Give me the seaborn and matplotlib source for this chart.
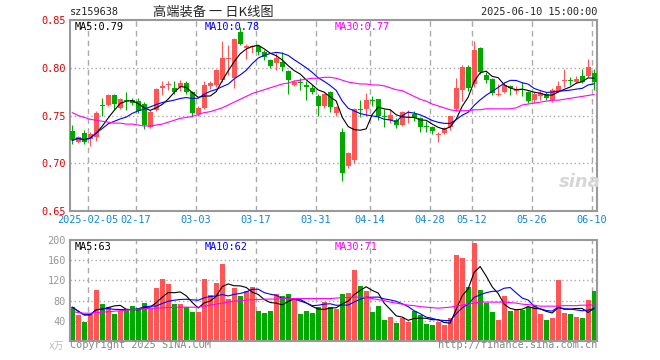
import numpy as np
import pandas as pd
import matplotlib
matplotlib.use("Agg")
import matplotlib.pyplot as plt
import seaborn as sns

# ---- data (one entry per trading day) ----
opens = [0.734, 0.722, 0.732, 0.725, 0.727, 0.761, 0.761, 0.771, 0.758, 0.766,
         0.766, 0.765, 0.762, 0.738, 0.756, 0.779, 0.782, 0.779, 0.780, 0.784,
         0.775, 0.752, 0.758, 0.781, 0.782, 0.787, 0.809, 0.789, 0.837, 0.821,
         0.822, 0.823, 0.817, 0.808, 0.805, 0.806, 0.797, 0.782, 0.785, 0.782,
         0.779, 0.770, 0.760, 0.775, 0.753, 0.733, 0.697, 0.703, 0.757, 0.757,
         0.766, 0.767, 0.749, 0.745, 0.745, 0.740, 0.747, 0.752, 0.747, 0.739,
         0.738, 0.730, 0.732, 0.738, 0.757, 0.777, 0.801, 0.783, 0.821, 0.792,
         0.788, 0.771, 0.775, 0.781, 0.776, 0.7775, 0.775, 0.766, 0.770, 0.772,
         0.766, 0.776, 0.786, 0.787, 0.785, 0.791, 0.791, 0.795]
highs = [0.740, 0.729, 0.735, 0.733, 0.755, 0.768, 0.772, 0.773, 0.768, 0.775,
         0.768, 0.768, 0.764, 0.756, 0.779, 0.786, 0.786, 0.786, 0.787, 0.786,
         0.776, 0.760, 0.786, 0.786, 0.799, 0.828, 0.824, 0.831, 0.843, 0.825,
         0.824, 0.824, 0.819, 0.809, 0.815, 0.817, 0.798, 0.787, 0.789, 0.786,
         0.782, 0.772, 0.774, 0.776, 0.760, 0.737, 0.712, 0.758, 0.766, 0.774,
         0.770, 0.767, 0.757, 0.757, 0.747, 0.755, 0.756, 0.755, 0.748, 0.744,
         0.739, 0.733, 0.738, 0.750, 0.789, 0.803, 0.803, 0.828, 0.822, 0.796,
         0.789, 0.783, 0.785, 0.782, 0.781, 0.785, 0.776, 0.775, 0.777, 0.775,
         0.779, 0.786, 0.799, 0.790, 0.791, 0.799, 0.809, 0.799]
lows = [0.720, 0.721, 0.720, 0.718, 0.723, 0.749, 0.760, 0.757, 0.757, 0.756,
        0.761, 0.753, 0.736, 0.737, 0.755, 0.771, 0.777, 0.773, 0.776, 0.772,
        0.749, 0.750, 0.757, 0.778, 0.780, 0.785, 0.792, 0.779, 0.824, 0.809,
        0.815, 0.813, 0.808, 0.800, 0.798, 0.797, 0.773, 0.781, 0.777, 0.766,
        0.773, 0.749, 0.758, 0.754, 0.749, 0.681, 0.695, 0.700, 0.748, 0.750,
        0.760, 0.745, 0.738, 0.742, 0.737, 0.739, 0.742, 0.744, 0.733, 0.733,
        0.731, 0.722, 0.731, 0.735, 0.755, 0.765, 0.776, 0.780, 0.793, 0.784,
        0.771, 0.770, 0.774, 0.771, 0.772, 0.770, 0.763, 0.763, 0.766, 0.766,
        0.764, 0.775, 0.780, 0.782, 0.784, 0.784, 0.790, 0.777]
closes = [0.724, 0.728, 0.722, 0.731, 0.753, 0.760, 0.771, 0.762, 0.767, 0.765,
          0.763, 0.755, 0.740, 0.754, 0.778, 0.781, 0.783, 0.775, 0.784, 0.775,
          0.753, 0.758, 0.782, 0.784, 0.798, 0.810, 0.810, 0.830, 0.825, 0.823,
          0.823, 0.817, 0.811, 0.802, 0.810, 0.801, 0.787, 0.785, 0.784, 0.780,
          0.775, 0.760, 0.773, 0.759, 0.759, 0.690, 0.711, 0.757, 0.756, 0.766,
          0.765, 0.750, 0.748, 0.751, 0.740, 0.754, 0.748, 0.747, 0.738, 0.738,
          0.734, 0.731, 0.737, 0.750, 0.779, 0.801, 0.779, 0.819, 0.796, 0.787,
          0.774, 0.772, 0.782, 0.779, 0.778, 0.777, 0.765, 0.773, 0.774, 0.768,
          0.777, 0.781, 0.787, 0.786, 0.788, 0.785, 0.801, 0.785]
volumes = [67, 51, 37, 53, 101, 73, 67, 53, 59, 62,
           69, 65, 75, 65, 105, 123, 112, 73, 73, 67,
           57, 57, 123, 91, 115, 153, 83, 105, 90, 99,
           107, 60, 55, 60, 93, 90, 93, 82, 53, 60,
           55, 67, 77, 67, 63, 93, 95, 141, 109, 99,
           57, 69, 41, 47, 35, 45, 37, 59, 51, 33,
           31, 37, 31, 45, 170, 164, 107, 195, 101, 76,
           57, 41, 89, 59, 64, 62, 67, 71, 53, 41,
           45, 121, 55, 53, 48, 45, 81, 99]
# 30-day averages as drawn (they need history from before the window)
ma30_price = [0.753, 0.750, 0.748, 0.746, 0.745, 0.744, 0.743, 0.742, 0.742, 0.741,
              0.741, 0.740, 0.739, 0.739, 0.740, 0.741, 0.743, 0.745, 0.747, 0.748,
              0.749, 0.751, 0.753, 0.754, 0.756, 0.758, 0.761, 0.764, 0.767, 0.770,
              0.773, 0.775, 0.777, 0.779, 0.781, 0.783, 0.784, 0.786, 0.787, 0.788,
              0.789, 0.789, 0.790, 0.790, 0.789, 0.787, 0.785, 0.784, 0.783, 0.783,
              0.782, 0.782, 0.781, 0.779, 0.777, 0.776, 0.773, 0.770, 0.767, 0.765,
              0.762, 0.760, 0.758, 0.756, 0.755, 0.755, 0.755, 0.756, 0.756, 0.757,
              0.757, 0.757, 0.757, 0.757, 0.758, 0.761, 0.762, 0.763, 0.764, 0.765,
              0.766, 0.766, 0.767, 0.768, 0.769, 0.770, 0.771, 0.772]
ma30_vol = [59, 56, 55, 55, 56, 57, 58, 59, 60, 61,
            62, 63, 64, 65, 65, 66, 66, 67, 67, 67,
            67, 67, 69, 71, 73, 75, 77, 79, 80, 81,
            82, 82, 83, 83, 83, 84, 84, 84, 84, 84,
            84, 84, 84, 84, 85, 86, 86, 87, 87, 86,
            84, 82, 80, 77, 75, 73, 71, 70, 68, 67,
            66, 65, 66, 67, 69, 71, 73, 75, 77, 77,
            77, 77, 77, 76, 75, 73, 72, 71, 69, 69,
            69, 69, 70, 70, 70, 71, 71, 72]

tick_labels = ["2025-02-05", "02-17", "03-03", "03-17", "03-31",
               "04-14", "04-28", "05-12", "05-26", "06-10"]
tick_idx = [3, 11, 21, 31, 41, 50, 60, 67, 77, 87]

price_labels = ["MA5:0.79", "MA10:0.78", "MA30:0.77"]
vol_labels = ["MA5:63", "MA10:62", "MA30:71"]

RED = "#ff5555"
GREEN = "#00a800"
GRID = "#aaaaaa"
FRAME = "#999999"

df = pd.DataFrame({"open": opens, "high": highs, "low": lows,
                   "close": closes, "vol": volumes,
                   "ma30": ma30_price, "vma30": ma30_vol})
df["idx"] = np.arange(len(df))
df["dir"] = np.where(df["close"] >= df["open"], "up", "down")
df["ma5"] = df["close"].rolling(5, min_periods=1).mean()
df["ma10"] = df["close"].rolling(10, min_periods=1).mean()
df["vma5"] = df["vol"].rolling(5, min_periods=1).mean()
df["vma10"] = df["vol"].rolling(10, min_periods=1).mean()

sns.set_style("white")
plt.rcParams["font.family"] = ["DejaVu Sans Mono", "Noto Sans CJK SC"]

W, H = 660, 360


def box(l, t, r, b):
    return [l / W, 1 - b / H, (r - l) / W, (b - t) / H]


def pt(x, y):
    return x / W, 1 - y / H


fig = plt.figure(figsize=(6.6, 3.6), dpi=100)
ax = fig.add_axes(box(70, 20, 597, 211))
axv = fig.add_axes(box(70, 240, 597, 341))

xlim = (-0.37, 87.47)
grid_x = [i - 0.35 for i in tick_idx]
LW = 0.8

# ---- price panel ----
for y in [0.70, 0.75, 0.80]:
    ax.axhline(y, color=GRID, lw=1, ls=(0, (1, 2)), zorder=0)
for x in grid_x:
    ax.axvline(x, color=GRID, lw=1, ls=(0, (4, 3)), zorder=0)

colors = np.where(df["dir"] == "up", RED, GREEN)
ax.vlines(df["idx"], df["low"], df["high"], colors=colors, lw=LW, zorder=2)
body = np.maximum((df["close"] - df["open"]).abs(), 0.0009)
ax.bar(df["idx"], body, bottom=np.minimum(df["open"], df["close"]),
       width=0.8, color=colors, lw=0, zorder=3)

sns.lineplot(x=df["idx"], y=df["ma5"], color="black", lw=LW, ax=ax, zorder=4)
sns.lineplot(x=df["idx"], y=df["ma10"], color="#0000ff", lw=LW, ax=ax, zorder=4)
sns.lineplot(x=df["idx"], y=df["ma30"], color="#ff00ff", lw=LW, ax=ax, zorder=4)

ax.set_xlim(*xlim)
ax.set_ylim(0.65, 0.85)
ax.set_yticks([0.65, 0.70, 0.75, 0.80, 0.85])
ax.set_yticklabels([f"{v:.2f}" for v in [0.65, 0.70, 0.75, 0.80, 0.85]])
ax.set_xticks(grid_x)
ax.set_xticklabels(tick_labels)
ax.tick_params(axis="y", length=0, pad=3, labelsize=7.4, labelcolor="#e00000")
ax.tick_params(axis="x", length=0, pad=3, labelsize=7.4, labelcolor="#1187d8")
ax.set_xlabel("")
ax.set_ylabel("")

# ---- volume panel ----
for y in [40, 80, 120, 160]:
    axv.axhline(y, color=GRID, lw=1, ls=(0, (1, 2)), zorder=0)
for x in grid_x:
    axv.axvline(x, color=GRID, lw=1, ls=(0, (4, 3)), zorder=0)

sns.barplot(data=df, x="idx", y="vol", hue="dir",
            palette={"up": RED, "down": GREEN}, dodge=False, width=0.8,
            saturation=1, linewidth=0, legend=False, ax=axv, zorder=2)
sns.lineplot(x=df["idx"], y=df["vma5"], color="black", lw=LW, ax=axv, zorder=4)
sns.lineplot(x=df["idx"], y=df["vma10"], color="#0000ff", lw=LW, ax=axv, zorder=4)
sns.lineplot(x=df["idx"], y=df["vma30"], color="#ff00ff", lw=LW, ax=axv, zorder=4)

axv.set_xlim(*xlim)
axv.set_ylim(0, 200)
axv.set_yticks([40, 80, 120, 160, 200])
axv.set_xticks(grid_x)
axv.set_xticklabels([])
axv.tick_params(axis="y", length=0, pad=3, labelsize=7.4, labelcolor="#999999")
axv.tick_params(axis="x", length=0)
axv.set_xlabel("")
axv.set_ylabel("")

for a in (ax, axv):
    for s in a.spines.values():
        s.set_color(FRAME)
        s.set_linewidth(1.5)
    a.set_facecolor("white")

# ---- texts ----
fs = 7.4
fig.text(*pt(70, 12), "sz159638", fontsize=fs, va="center", ha="left")
fig.text(*pt(213, 12), "高端装备 一 日K线图", fontsize=9.5, va="center",
         ha="center", family=["Noto Sans CJK SC", "DejaVu Sans"])
fig.text(*pt(597, 12), "2025-06-10 15:00:00", fontsize=fs, va="center", ha="right")

for x, s, c in zip([75, 205, 335], price_labels, ["black", "#0000ff", "#ff00ff"]):
    fig.text(*pt(x, 26.5), s, fontsize=fs, va="center", ha="left", color=c)
for x, s, c in zip([75, 205, 335], vol_labels, ["black", "#0000ff", "#ff00ff"]):
    fig.text(*pt(x, 246.5), s, fontsize=fs, va="center", ha="left", color=c)

fig.text(*pt(70, 345.5), "Copyright 2025 SINA.COM", fontsize=fs, va="center",
         ha="left", color="#888888")
fig.text(*pt(597, 345.5), "http://finance.sina.com.cn", fontsize=fs,
         va="center", ha="right", color="#888888")
fig.text(*pt(56, 345.5), "x万", fontsize=7, va="center", ha="center",
         color="#bbbbbb", family=["DejaVu Sans", "Noto Sans CJK SC"])
fig.text(*pt(580, 182), "sina", fontsize=13, va="center", ha="center",
         color="#d6d6d6", fontstyle="italic", fontweight="bold",
         family=["DejaVu Sans"])

fig.savefig("out.png", dpi=100, facecolor="white")
